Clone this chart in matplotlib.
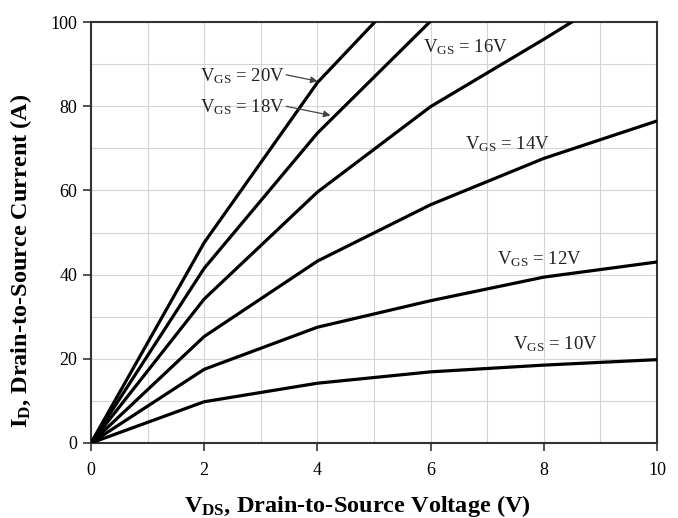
import matplotlib
matplotlib.use('Agg')
import matplotlib.pyplot as plt
import numpy as np

# 폰트 설정
plt.rcParams['font.family'] = ['Liberation Serif', 'DejaVu Serif']
plt.rcParams['mathtext.fontset'] = 'custom'
plt.rcParams['mathtext.rm'] = 'Liberation Serif'
plt.rcParams['mathtext.it'] = 'Liberation Serif:italic'
plt.rcParams['mathtext.bf'] = 'Liberation Serif:bold'

# 데이터
vds = [0, 2, 4, 6, 8, 10]
id_10v = [0, 9.8, 14.2, 16.9, 18.5, 19.8]
id_12v = [0, 17.5, 27.5, 33.8, 39.4, 43.0]
id_14v = [0, 25.3, 43.2, 56.6, 67.6, 76.5]
id_16v = [0, 34.2, 59.6, 79.9, 95.9, 112.5]
id_18v = [0, 41.5, 73.6, 100.2, 126.0, 150.0]
id_20v = [0, 47.6, 85.6, 114.0, 140.0, 165.0]

curves = [id_10v, id_12v, id_14v, id_16v, id_18v, id_20v]

# 라벨 위치 (data 좌표)
label_text = ['10V', '12V', '14V', '16V', '18V', '20V']
label_x = [7.46, 7.17, 6.61, 5.87, 1.93, 1.93]
label_y = [22.2, 42.5, 69.8, 92.7, 78.5, 86.0]

arrow_from = [(3.40, 87.6), (3.40, 80.1)]
arrow_to = [(4.05, 85.8), (4.28, 77.7)]

fig = plt.figure(figsize=(6.78, 5.18), dpi=100)
ax = fig.add_axes([0.1342, 0.1448, 0.8348, 0.8127])

for c in curves:
    ax.plot(vds, c, color='black', linewidth=2.3, solid_capstyle='round', zorder=3)

ax.set_xlim(0, 10)
ax.set_ylim(0, 100)
ax.set_xticks(np.arange(0, 11, 2))
ax.set_yticks(np.arange(0, 101, 20))
ax.set_xticks(np.arange(0, 11, 1), minor=True)
ax.set_yticks(np.arange(0, 101, 10), minor=True)
ax.grid(True, which='both', color='#d4d4d4', linewidth=0.8, zorder=0)
ax.tick_params(which='major', direction='out', length=6, width=1.2, labelsize=13, color='#333333')
ax.tick_params(which='minor', length=0)
ax.tick_params(axis='x', pad=8)
ax.tick_params(axis='y', pad=4)

for side in ['left', 'bottom', 'top', 'right']:
    ax.spines[side].set_linewidth(1.5)
    ax.spines[side].set_color('#333333')

ax.set_xlabel(r'V$_{\mathbf{DS}}$, Drain-to-Source Voltage (V)', fontsize=17.5, fontweight='bold')
ax.set_ylabel(r'I$_{\mathbf{D}}$, Drain-to-Source Current (A)', fontsize=17.5, fontweight='bold')
ax.xaxis.set_label_coords(0.471, -0.119)
ax.yaxis.set_label_coords(-0.10, 0.432)

for t, x, y in zip(label_text, label_x, label_y):
    ax.text(x, y, r'V$_{\mathrm{GS}}$ = ' + t, fontsize=13.5, ha='left', va='baseline', color='#222222', zorder=4)

for a, b in zip(arrow_from, arrow_to):
    ax.annotate('', xy=b, xytext=a,
                arrowprops=dict(arrowstyle='-|>', color='#444444', lw=0.9, mutation_scale=10), zorder=4)

plt.savefig('out.png', dpi=100)
